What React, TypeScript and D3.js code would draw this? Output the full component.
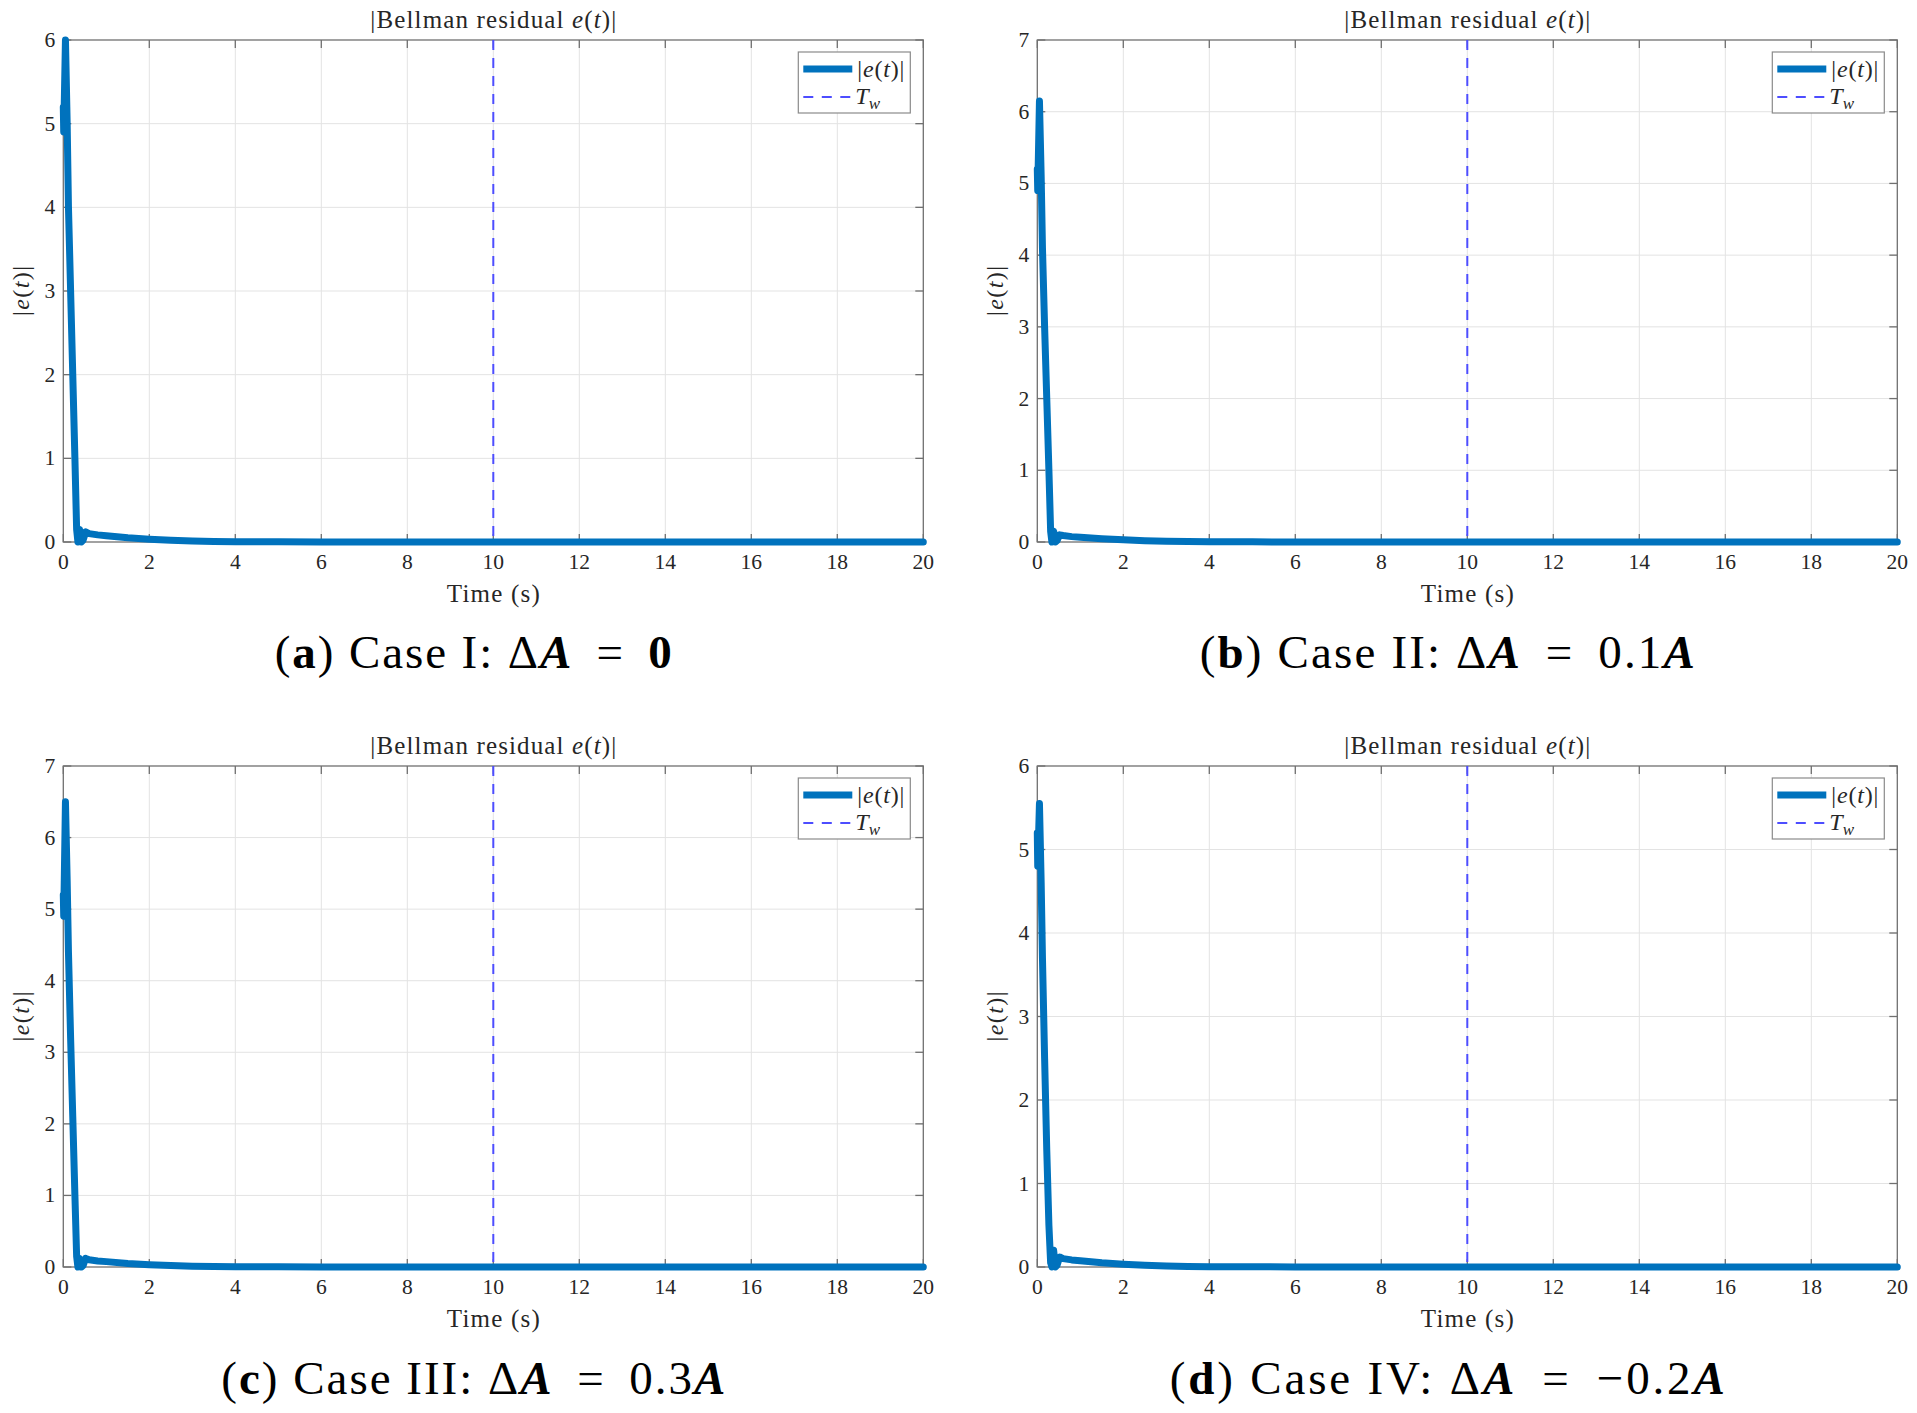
import { useEffect, useRef } from "react";
import * as d3 from "d3";

// sample times (s) shared by the four cases
const timeS = [
  0, 0.01, 0.05, 0.09, 0.12, 0.17, 0.22, 0.27, 0.31, 0.34, 0.38, 0.42, 0.46,
  0.52, 0.6, 0.8, 1.0, 1.5, 2, 2.5, 3, 3.5, 4, 5, 6, 8, 10, 15, 20,
];

const caseI = [
  5.2, 4.9, 6.0, 5.0, 4.0, 3.0, 2.0, 1.0, 0.15, 0.0, 0.15, 0.0, 0.02, 0.12,
  0.1, 0.085, 0.075, 0.05, 0.033, 0.02, 0.012, 0.007, 0.004, 0.002, 0.001, 0, 0,
  0, 0,
];
const caseII = [
  5.2, 4.9, 6.15, 5.1, 4.1, 3.0, 2.0, 1.0, 0.15, 0.0, 0.15, 0.0, 0.02, 0.1,
  0.09, 0.075, 0.065, 0.045, 0.03, 0.018, 0.011, 0.006, 0.004, 0.002, 0.001, 0,
  0, 0, 0,
];
const caseIII = [
  5.2, 4.9, 6.5, 5.4, 4.4, 3.2, 2.1, 1.0, 0.15, 0.0, 0.12, 0.0, 0.02, 0.12,
  0.1, 0.085, 0.075, 0.05, 0.033, 0.02, 0.012, 0.007, 0.004, 0.002, 0.001, 0, 0,
  0, 0,
];
const caseIV = [
  5.2, 4.8, 5.55, 4.6, 3.7, 2.5, 1.4, 0.5, 0.05, 0.0, 0.2, 0.0, 0.02, 0.12, 0.1,
  0.085, 0.075, 0.05, 0.033, 0.02, 0.012, 0.007, 0.004, 0.002, 0.001, 0, 0, 0,
  0,
];

const xTicks = [0, 2, 4, 6, 8, 10, 12, 14, 16, 18, 20];
const yMaxes = [6, 7, 7, 6];
const windowT = 10;

type Seg = { t: string; bold?: boolean; italic?: boolean };

const EQ = " \u2006=\u2006 ";
const captions: Seg[][] = [
  [
    { t: "(" },
    { t: "a", bold: true },
    { t: ") Case I: Δ" },
    { t: "A", bold: true, italic: true },
    { t: EQ },
    { t: "0", bold: true },
  ],
  [
    { t: "(" },
    { t: "b", bold: true },
    { t: ") Case II: Δ" },
    { t: "A", bold: true, italic: true },
    { t: EQ + "0.1" },
    { t: "A", bold: true, italic: true },
  ],
  [
    { t: "(" },
    { t: "c", bold: true },
    { t: ") Case III: Δ" },
    { t: "A", bold: true, italic: true },
    { t: EQ + "0.3" },
    { t: "A", bold: true, italic: true },
  ],
  [
    { t: "(" },
    { t: "d", bold: true },
    { t: ") Case IV: Δ" },
    { t: "A", bold: true, italic: true },
    { t: EQ + "−0.2" },
    { t: "A", bold: true, italic: true },
  ],
];
const captionWidths = [397, 495, 504, 555];

const W = 1917;
const H = 1413;
const serif = "'Liberation Serif', 'DejaVu Serif', serif";
const blue = "#0072BD";
const dashBlue = "#4d4dff";
const ink = "#262626";

const App = () => {
  const svgRef = useRef<SVGSVGElement | null>(null);

  useEffect(() => {
    if (!svgRef.current) return;
    document.body.style.margin = "0";
    const svg = d3.select(svgRef.current);
    svg.selectAll("*").remove();
    svg.attr("width", W).attr("height", H).attr("viewBox", `0 0 ${W} ${H}`);
    svg.append("rect").attr("width", W).attr("height", H).attr("fill", "#fff");

    const series = [caseI, caseII, caseIII, caseIV];
    const lefts = [63.3, 1037.3, 63.3, 1037.3];
    const tops = [40, 40, 766, 766];
    const bottoms = [542, 542, 1267, 1267];
    const plotW = 860;

    const mathLabel = (sel: d3.Selection<SVGTextElement, unknown, null, undefined>) => {
      sel.append("tspan").text("|");
      sel.append("tspan").attr("font-style", "italic").text("e");
      sel.append("tspan").text("(");
      sel.append("tspan").attr("font-style", "italic").text("t");
      sel.append("tspan").text(")|");
    };

    series.forEach((vals, i) => {
      const left = lefts[i];
      const right = left + plotW;
      const top = tops[i];
      const bottom = bottoms[i];
      const x = d3.scaleLinear().domain([0, 20]).range([left, right]);
      const y = d3.scaleLinear().domain([0, yMaxes[i]]).range([bottom, top]);
      const yTicks = d3.range(0, yMaxes[i] + 1);
      const cx = (left + right) / 2;
      const g = svg.append("g");

      // grid
      g.selectAll(".gx")
        .data(xTicks.slice(1, -1))
        .join("line")
        .attr("x1", (d) => x(d))
        .attr("x2", (d) => x(d))
        .attr("y1", top)
        .attr("y2", bottom)
        .attr("stroke", "#e3e3e3")
        .attr("stroke-width", 1);
      g.selectAll(".gy")
        .data(yTicks.slice(1, -1))
        .join("line")
        .attr("x1", left)
        .attr("x2", right)
        .attr("y1", (d) => y(d))
        .attr("y2", (d) => y(d))
        .attr("stroke", "#e3e3e3")
        .attr("stroke-width", 1);

      // box + inward ticks
      g.append("rect")
        .attr("x", left)
        .attr("y", top)
        .attr("width", plotW)
        .attr("height", bottom - top)
        .attr("fill", "none")
        .attr("stroke", "#707070")
        .attr("stroke-width", 1.3);
      const tl = 8;
      xTicks.forEach((t) => {
        g.append("line")
          .attr("x1", x(t)).attr("x2", x(t))
          .attr("y1", bottom).attr("y2", bottom - tl)
          .attr("stroke", "#707070").attr("stroke-width", 1.3);
        g.append("line")
          .attr("x1", x(t)).attr("x2", x(t))
          .attr("y1", top).attr("y2", top + tl)
          .attr("stroke", "#707070").attr("stroke-width", 1.3);
        g.append("text")
          .attr("x", x(t))
          .attr("y", bottom + 27)
          .attr("text-anchor", "middle")
          .attr("font-family", serif)
          .attr("font-size", 21.5)
          .attr("fill", ink)
          .text(t);
      });
      yTicks.forEach((t) => {
        g.append("line")
          .attr("x1", left).attr("x2", left + tl)
          .attr("y1", y(t)).attr("y2", y(t))
          .attr("stroke", "#707070").attr("stroke-width", 1.3);
        g.append("line")
          .attr("x1", right).attr("x2", right - tl)
          .attr("y1", y(t)).attr("y2", y(t))
          .attr("stroke", "#707070").attr("stroke-width", 1.3);
        g.append("text")
          .attr("x", left - 8)
          .attr("y", y(t) + 7)
          .attr("text-anchor", "end")
          .attr("font-family", serif)
          .attr("font-size", 21.5)
          .attr("fill", ink)
          .text(t);
      });

      // residual curve
      const line = d3
        .line<number>()
        .x((_, k) => x(timeS[k]))
        .y((d) => y(d));
      g.append("path")
        .datum(vals)
        .attr("fill", "none")
        .attr("stroke", blue)
        .attr("stroke-width", 7)
        .attr("stroke-linejoin", "round")
        .attr("stroke-linecap", "round")
        .attr("d", line);

      // window marker
      g.append("line")
        .attr("x1", x(windowT)).attr("x2", x(windowT))
        .attr("y1", top).attr("y2", bottom)
        .attr("stroke", dashBlue)
        .attr("stroke-width", 2)
        .attr("stroke-dasharray", "10 8");

      // title
      const title = g.append("text")
        .attr("x", cx)
        .attr("y", top - 12)
        .attr("text-anchor", "middle")
        .attr("font-family", serif)
        .attr("font-size", 25)
        .attr("textLength", 246)
        .attr("lengthAdjust", "spacing")
        .attr("fill", ink);
      title.append("tspan").text("|Bellman residual ");
      title.append("tspan").attr("font-style", "italic").text("e");
      title.append("tspan").text("(");
      title.append("tspan").attr("font-style", "italic").text("t");
      title.append("tspan").text(")|");

      // x label
      g.append("text")
        .attr("x", cx)
        .attr("y", bottom + 60)
        .attr("text-anchor", "middle")
        .attr("font-family", serif)
        .attr("font-size", 25)
        .attr("textLength", 93)
        .attr("lengthAdjust", "spacing")
        .attr("fill", ink)
        .text("Time (s)");

      // y label
      const yl = g.append("text")
        .attr("transform", `translate(${left - 34}, ${(top + bottom) / 2}) rotate(-90)`)
        .attr("text-anchor", "middle")
        .attr("font-family", serif)
        .attr("font-size", 24)
        .attr("textLength", 50)
        .attr("lengthAdjust", "spacing")
        .attr("fill", ink);
      mathLabel(yl);

      // legend
      const lx = right - 125;
      const ly = top + 12;
      const lg = g.append("g").attr("transform", `translate(${lx}, ${ly})`);
      lg.append("rect")
        .attr("width", 112)
        .attr("height", 61)
        .attr("fill", "#fff")
        .attr("stroke", "#8a8a8a")
        .attr("stroke-width", 1.2);
      lg.append("line")
        .attr("x1", 5).attr("x2", 54).attr("y1", 17).attr("y2", 17)
        .attr("stroke", blue).attr("stroke-width", 7);
      lg.append("line")
        .attr("x1", 5).attr("x2", 54).attr("y1", 45).attr("y2", 45)
        .attr("stroke", dashBlue).attr("stroke-width", 2)
        .attr("stroke-dasharray", "10 8.5");
      const l1 = lg.append("text")
        .attr("x", 59).attr("y", 25)
        .attr("font-family", serif).attr("font-size", 24)
        .attr("textLength", 47)
        .attr("lengthAdjust", "spacing")
        .attr("fill", ink);
      mathLabel(l1);
      const l2 = lg.append("text")
        .attr("x", 57).attr("y", 52)
        .attr("font-family", serif).attr("font-size", 24).attr("fill", ink);
      l2.append("tspan").attr("font-style", "italic").text("T");
      l2.append("tspan")
        .attr("font-style", "italic")
        .attr("font-size", 17)
        .attr("dy", 5)
        .text("w");

      // caption
      const cap = svg.append("text")
        .attr("x", cx - 20)
        .attr("y", top + 628)
        .attr("text-anchor", "middle")
        .attr("font-family", serif)
        .attr("font-size", 47)
        .attr("textLength", captionWidths[i])
        .attr("lengthAdjust", "spacing")
        .attr("fill", "#000");
      captions[i].forEach((s) => {
        cap.append("tspan")
          .attr("font-weight", s.bold ? "bold" : "normal")
          .attr("font-style", s.italic ? "italic" : "normal")
          .text(s.t);
      });
    });
  }, []);

  return <svg ref={svgRef} style={{ display: "block" }} />;
};

export default App;
